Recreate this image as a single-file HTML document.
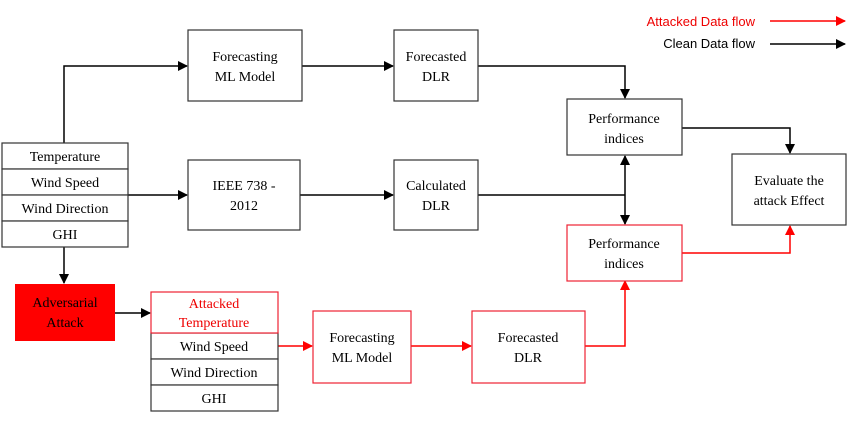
<!DOCTYPE html>
<html><head><style>
body{margin:0;background:#fff;}
svg text{font-family:"Liberation Serif",serif;font-size:14px;text-anchor:middle;}
</style></head><body>
<svg width="863" height="416" viewBox="0 0 863 416" xmlns="http://www.w3.org/2000/svg">
<defs>
<marker id="b" markerWidth="10" markerHeight="10" refX="9" refY="5" orient="auto" markerUnits="userSpaceOnUse"><path d="M0,0 L10,5 L0,10 z" fill="#000"/></marker>
<marker id="r" markerWidth="10" markerHeight="10" refX="9" refY="5" orient="auto" markerUnits="userSpaceOnUse"><path d="M0,0 L10,5 L0,10 z" fill="#f00"/></marker>
</defs>
<g fill="none" stroke="#000" stroke-width="1.5">
<polyline points="64,143 64,66 187,66" marker-end="url(#b)"/>
<line x1="302" y1="66" x2="393" y2="66" marker-end="url(#b)"/>
<polyline points="478,66 625,66 625,98" marker-end="url(#b)"/>
<line x1="60" y1="195" x2="187" y2="195" marker-end="url(#b)"/>
<line x1="300" y1="195" x2="393" y2="195" marker-end="url(#b)"/>
<line x1="478" y1="195" x2="625" y2="195"/>
<line x1="625" y1="195" x2="625" y2="156" marker-end="url(#b)"/>
<line x1="625" y1="195" x2="625" y2="224" marker-end="url(#b)"/>
<polyline points="682,128 790,128 790,153" marker-end="url(#b)"/>
<line x1="64" y1="247" x2="64" y2="283" marker-end="url(#b)"/>
<line x1="115" y1="313" x2="150" y2="313" marker-end="url(#b)"/>
<line x1="770" y1="44" x2="845" y2="44" marker-end="url(#b)"/>
</g>
<g fill="none" stroke="#f00" stroke-width="1.5">
<line x1="278" y1="346" x2="312" y2="346" marker-end="url(#r)"/>
<line x1="411" y1="346" x2="471" y2="346" marker-end="url(#r)"/>
<polyline points="585,346 625,346 625,281" marker-end="url(#r)"/>
<polyline points="682,253 790,253 790,226" marker-end="url(#r)"/>
<line x1="770" y1="21" x2="845" y2="21" marker-end="url(#r)"/>
</g>
<g fill="#fff" stroke="#333" stroke-width="1.2">
<rect x="2" y="143" width="126" height="26"/><rect x="2" y="169" width="126" height="26"/>
<rect x="2" y="195" width="126" height="26"/><rect x="2" y="221" width="126" height="26"/>
<rect x="188" y="30" width="114" height="71"/>
<rect x="394" y="30" width="84" height="71"/>
<rect x="188" y="160" width="112" height="70"/>
<rect x="394" y="160" width="84" height="70"/>
<rect x="567" y="99" width="115" height="56"/>
<rect x="732" y="154" width="114" height="71"/>
<rect x="151" y="333" width="127" height="26"/><rect x="151" y="359" width="127" height="26"/><rect x="151" y="385" width="127" height="26"/>
</g>
<g fill="#fff" stroke="#e23" stroke-width="1.2">
<rect x="151" y="292" width="127" height="41"/>
<rect x="567" y="225" width="115" height="56"/>
<rect x="313" y="311" width="98" height="72"/>
<rect x="472" y="311" width="113" height="72"/>
</g>
<rect x="15" y="284" width="100" height="57" fill="#f00"/>
<g fill="#000">
<text x="65" y="161">Temperature</text><text x="65" y="187">Wind Speed</text>
<text x="65" y="213">Wind Direction</text><text x="65" y="239">GHI</text>
<text x="245" y="61">Forecasting</text><text x="245" y="81">ML Model</text>
<text x="436" y="61">Forecasted</text><text x="436" y="81">DLR</text>
<text x="244" y="190">IEEE 738 -</text><text x="244" y="210">2012</text>
<text x="436" y="190">Calculated</text><text x="436" y="210">DLR</text>
<text x="624" y="123">Performance</text><text x="624" y="143">indices</text>
<text x="624" y="248">Performance</text><text x="624" y="268">indices</text>
<text x="789" y="185">Evaluate the</text><text x="789" y="205">attack Effect</text>
<text x="65" y="307">Adversarial</text><text x="65" y="327">Attack</text>
<text x="214" y="351">Wind Speed</text><text x="214" y="377">Wind Direction</text><text x="214" y="403">GHI</text>
<text x="362" y="342">Forecasting</text><text x="362" y="362">ML Model</text>
<text x="528" y="342">Forecasted</text><text x="528" y="362">DLR</text>
</g>
<g fill="#e00">
<text x="214" y="308">Attacked</text><text x="214" y="327">Temperature</text>
</g>
<text x="755" y="26" style="font-family:'Liberation Sans',sans-serif;font-size:13px;text-anchor:end;fill:#e00">Attacked Data flow</text>
<text x="755" y="48" style="font-family:'Liberation Sans',sans-serif;font-size:13px;text-anchor:end;fill:#000">Clean Data flow</text>
</svg>
</body></html>
